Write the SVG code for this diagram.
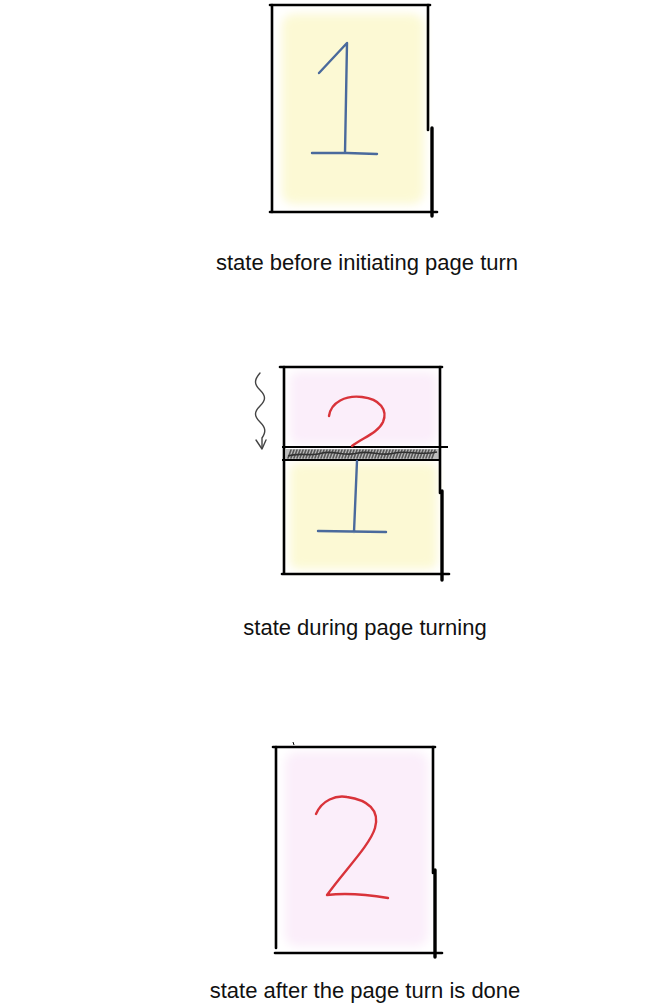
<svg xmlns="http://www.w3.org/2000/svg" width="657" height="1007" viewBox="0 0 657 1007">
<defs>
<filter id="soft" x="-20%" y="-20%" width="140%" height="140%"><feGaussianBlur stdDeviation="5"/></filter>
<filter id="hatchblur"><feGaussianBlur stdDeviation="0.5"/></filter>
<style>
.edge{stroke:#000;stroke-width:2.6;stroke-linecap:round;fill:none}
.thick{stroke:#000;stroke-width:3.4;stroke-linecap:round;fill:none}
.blue{stroke:#4a6a9c;stroke-width:2.4;stroke-linecap:round;stroke-linejoin:round;fill:none}
.red{stroke:#d9333a;stroke-width:2.4;stroke-linecap:round;stroke-linejoin:round;fill:none}
.yellow{fill:#fcf9d4}
.pink{fill:#fbeefa}
.cap{font-family:"Liberation Sans",Arial,sans-serif;font-size:22px;fill:#111;text-anchor:middle}
</style>
</defs>
<rect width="657" height="1007" fill="#fff"/>

<g id="page1">
<rect class="yellow" x="282" y="14" width="142" height="190" rx="12" filter="url(#soft)"/>
<line class="edge" x1="270" y1="5" x2="430" y2="5"/>
<line class="edge" x1="272" y1="5" x2="272" y2="212"/>
<line class="edge" x1="428" y1="5" x2="428" y2="130"/>
<line class="thick" x1="432" y1="128" x2="432" y2="216"/>
<line class="edge" x1="270" y1="212" x2="437" y2="212"/>
<path class="blue" d="M319,73 L347,43 L345,153 M312,153 L347,153 L377,154"/>
</g>
<text class="cap" x="367" y="270">state before initiating page turn</text>

<g id="page2">
<rect class="pink" x="290" y="372" width="147" height="72" rx="8" filter="url(#soft)"/>
<rect class="yellow" x="290" y="463" width="147" height="106" rx="8" filter="url(#soft)"/>
<rect x="286" y="449" width="153" height="10" fill="#bdbdbd"/>
<g filter="url(#hatchblur)">
<path d="M288,458 l3,-8 M291,458 l3,-8 M294,458 l3,-8 M297,458 l3,-8 M300,458 l3,-8 M303,458 l3,-8 M306,458 l3,-8 M309,458 l3,-8 M312,458 l3,-8 M315,458 l3,-8 M318,458 l3,-8 M321,458 l3,-8 M324,458 l3,-8 M327,458 l3,-8 M330,458 l3,-8 M333,458 l3,-8 M336,458 l3,-8 M339,458 l3,-8 M342,458 l3,-8 M345,458 l3,-8 M348,458 l3,-8 M351,458 l3,-8 M354,458 l3,-8 M357,458 l3,-8 M360,458 l3,-8 M363,458 l3,-8 M366,458 l3,-8 M369,458 l3,-8 M372,458 l3,-8 M375,458 l3,-8 M378,458 l3,-8 M381,458 l3,-8 M384,458 l3,-8 M387,458 l3,-8 M390,458 l3,-8 M393,458 l3,-8 M396,458 l3,-8 M399,458 l3,-8 M402,458 l3,-8 M405,458 l3,-8 M408,458 l3,-8 M411,458 l3,-8 M414,458 l3,-8 M417,458 l3,-8 M420,458 l3,-8 M423,458 l3,-8 M426,458 l3,-8 M429,458 l3,-8 M432,458 l3,-8" fill="none" stroke="#555" stroke-width="1.6" stroke-linecap="round"/>
<path d="M288,456 C300,452 310,457 322,453 C334,450 345,457 358,453 C370,450 382,457 395,453 C408,450 420,456 437,452" fill="none" stroke="#333" stroke-width="1.6"/>
</g>
<line class="edge" x1="280" y1="367" x2="442" y2="367"/>
<line class="edge" x1="284" y1="367" x2="284" y2="573"/>
<line class="edge" x1="440" y1="367" x2="440" y2="493"/>
<line class="thick" x1="442" y1="491" x2="442" y2="580"/>
<line class="edge" x1="282" y1="574" x2="449" y2="574"/>
<line x1="282" y1="447" x2="448" y2="447" stroke="#000" stroke-width="1.8"/>
<line x1="282" y1="460" x2="441" y2="460" stroke="#000" stroke-width="1.8"/>
<path class="red" d="M329,416 C331,402 346,395 362,397 C380,399 388,410 383,422 C378,433 362,438 352,446"/>
<path class="blue" d="M357,461 L354,532 M318,531 L386,532"/>
</g>
<text class="cap" x="365" y="635">state during page turning</text>

<g id="connectors">
<path d="M260,373 C254,380 254,384 260,390 C266,396 266,400 260,406 C254,412 254,416 260,422 C266,428 266,432 262,438 L262,448" fill="none" stroke="#444" stroke-width="1.4" stroke-linecap="round"/>
<path d="M256,440 L262,449 L266,440" fill="none" stroke="#444" stroke-width="1.4" stroke-linecap="round" stroke-linejoin="round"/>
</g>

<g id="page3">
<rect class="pink" x="285" y="752" width="143" height="194" rx="12" filter="url(#soft)"/>
<line class="edge" x1="273" y1="747" x2="435" y2="747"/>
<line x1="293" y1="742" x2="294" y2="745" stroke="#000" stroke-width="1"/>
<line class="edge" x1="276" y1="747" x2="276" y2="948"/>
<line class="edge" x1="433" y1="747" x2="433" y2="873"/>
<line class="thick" x1="435" y1="870" x2="435" y2="957"/>
<line class="edge" x1="275" y1="953" x2="442" y2="953"/>
<path class="red" d="M316,814 C322,800 336,795 347,797 C368,800 380,810 375,828 C370,845 345,870 327,895 C345,893 370,895 388,898"/>
</g>
<text class="cap" x="365" y="998">state after the page turn is done</text>
</svg>
